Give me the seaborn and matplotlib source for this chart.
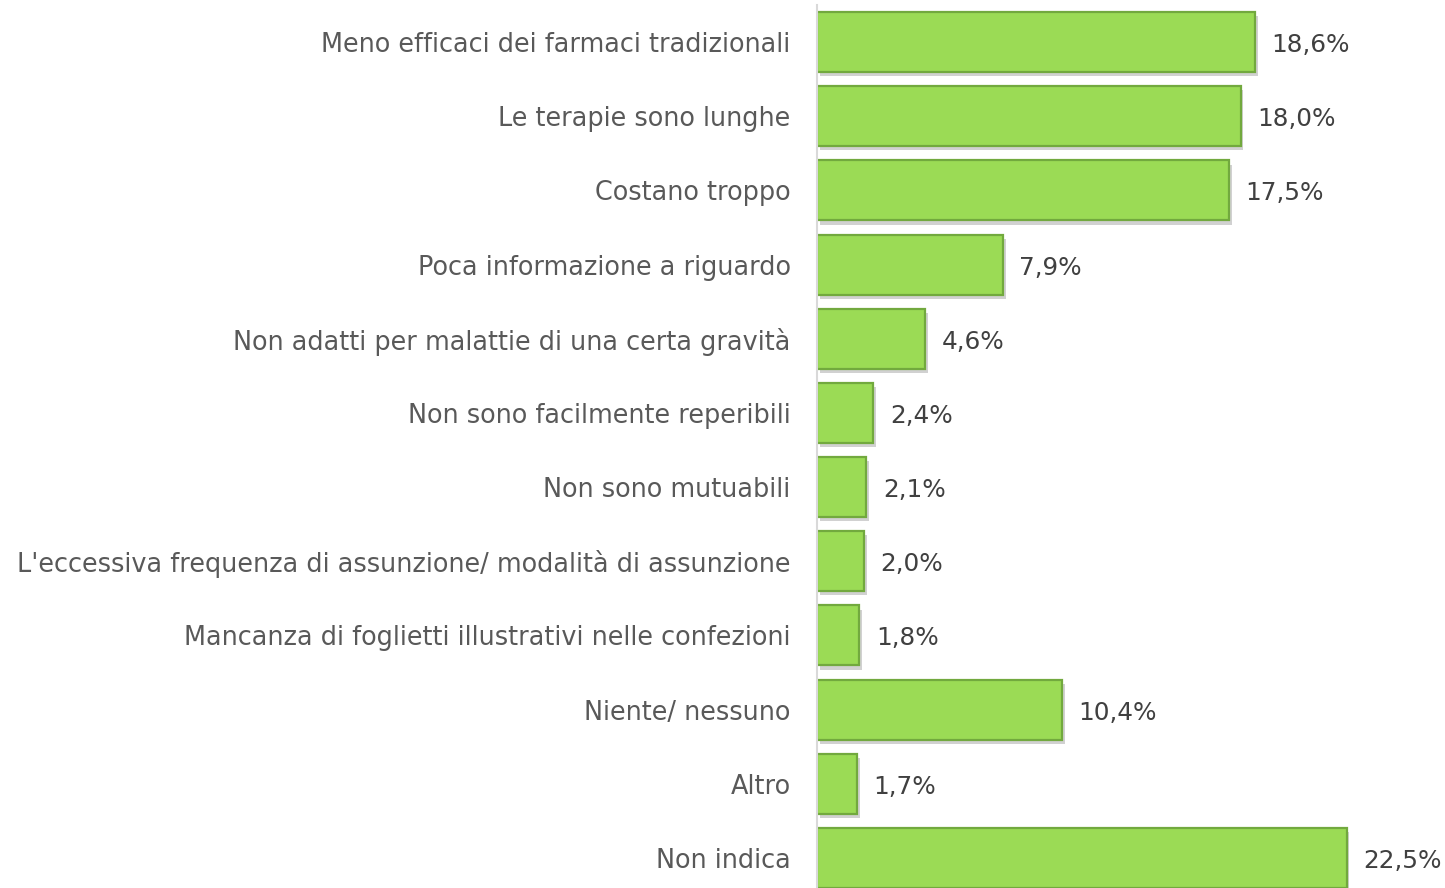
import matplotlib
matplotlib.use("Agg")
import matplotlib.pyplot as plt
import matplotlib.patheffects as pe
import seaborn as sns
import pandas as pd

categorie = [
    "Meno efficaci dei farmaci tradizionali",
    "Le terapie sono lunghe",
    "Costano troppo",
    "Poca informazione a riguardo",
    "Non adatti per malattie di una certa gravità",
    "Non sono facilmente reperibili",
    "Non sono mutuabili",
    "L'eccessiva frequenza di assunzione/ modalità di assunzione",
    "Mancanza di foglietti illustrativi nelle confezioni",
    "Niente/ nessuno",
    "Altro",
    "Non indica",
]
valori = [18.6, 18.0, 17.5, 7.9, 4.6, 2.4, 2.1, 2.0, 1.8, 10.4, 1.7, 22.5]
etichette = ["18,6%", "18,0%", "17,5%", "7,9%", "4,6%", "2,4%", "2,1%",
             "2,0%", "1,8%", "10,4%", "1,7%", "22,5%"]

df = pd.DataFrame({"categoria": categorie, "valore": valori})

sns.set_theme(style="white")
plt.rcParams["font.family"] = ["DejaVu Sans"]

fig = plt.figure(figsize=(14.45, 8.88), dpi=100)
ax = fig.add_axes([0.5654, 0.0, 0.43, 0.9944])

sns.barplot(data=df, x="valore", y="categoria", color="#9BDB55",
            width=0.81, edgecolor="#72A93E", linewidth=1.6, saturation=1, ax=ax)

for patch in ax.patches:
    patch.set_path_effects([
        pe.SimplePatchShadow(offset=(2, -3), shadow_rgbFace="#999999", alpha=0.45),
        pe.Normal(),
    ])

for i, (v, t) in enumerate(zip(valori, etichette)):
    ax.text(v + 0.7, i + 0.04, t, va="center", ha="left",
            fontsize=17.8, color="#404040")

ax.set_xlim(0, 26.4)
ax.set_ylim(11.405, -0.5)
ax.set_xlabel("")
ax.set_ylabel("")
ax.set_xticks([])
ax.tick_params(axis="y", length=0, pad=19, labelsize=18.4, labelcolor="#595959")
for s in ["top", "right", "bottom"]:
    ax.spines[s].set_visible(False)
ax.spines["left"].set_color("#D9D9D9")
ax.spines["left"].set_linewidth(1.5)

fig.savefig("out.png", dpi=100)
